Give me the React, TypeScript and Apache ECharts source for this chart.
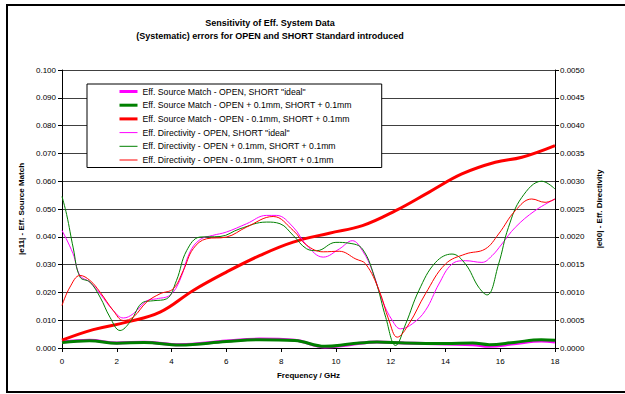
import React, { useEffect, useRef } from "react";
import * as echarts from "echarts";

const titleLines = [
  "Sensitivity of Eff. System Data",
  "(Systematic) errors for OPEN and SHORT Standard introduced",
];
const xAxisName = "Frequency / GHz";
const leftAxisName = "|e11| - Eff. Source Match";
const rightAxisName = "|e00| - Eff. Directivity";

const seriesNames = [
  'Eff. Source Match - OPEN, SHORT "ideal"',
  "Eff. Source Match - OPEN + 0.1mm, SHORT + 0.1mm",
  "Eff. Source Match - OPEN - 0.1mm, SHORT + 0.1mm",
  'Eff. Directivity - OPEN, SHORT "ideal"',
  "Eff. Directivity - OPEN + 0.1mm, SHORT + 0.1mm",
  "Eff. Directivity - OPEN - 0.1mm, SHORT + 0.1mm",
];

// Source match (left axis)
const smIdealFreq = [0, 1, 2, 3, 4.3, 6, 7.2, 8.5, 9.6, 10.5, 11.5, 12.5, 14, 15, 15.6, 16.5, 17.5, 18];
const smIdeal = [0.0022, 0.0028, 0.0018, 0.0021, 0.0012, 0.0025, 0.0032, 0.0028, 0.0004, 0.0012, 0.0022, 0.0018, 0.0014, 0.0012, 0.0006, 0.0015, 0.0025, 0.0022];
const smPlusFreq = [0, 1, 2, 3, 4.3, 6, 7.2, 8.5, 9.6, 10.5, 11.5, 12.5, 14, 15, 15.6, 16.5, 17.5, 18];
const smPlus = [0.002, 0.0026, 0.0017, 0.002, 0.0011, 0.0023, 0.003, 0.0027, 0.0006, 0.0014, 0.0022, 0.0018, 0.0016, 0.0018, 0.0012, 0.002, 0.003, 0.0028];
const smMinusFreq = [0, 1.14, 2.36, 3.58, 4.79, 6.0, 7.23, 8.44, 9.76, 10.97, 12.18, 13.39, 14.6, 15.82, 16.79, 18];
const smMinus = [0.0028, 0.0066, 0.0093, 0.0129, 0.0207, 0.0273, 0.0333, 0.0381, 0.0413, 0.044, 0.0494, 0.056, 0.0626, 0.0668, 0.0686, 0.0728];

// Directivity (right axis)
const dirIdealFreq = [0, 0.4, 0.66, 1.02, 1.39, 1.87, 2.24, 2.6, 3.1, 3.45, 3.94, 4.3, 4.67, 5.04, 5.5, 6.0, 6.74, 7.47, 7.83, 8.44, 8.93, 9.54, 10.12, 10.6, 10.97, 11.33, 11.7, 12.06, 12.36, 12.79, 13.27, 13.76, 14.24, 14.73, 15.33, 15.7, 16.06, 16.55, 17.27, 18];
const dirIdeal = [0.002115, 0.0017, 0.0013, 0.001185, 0.000975, 0.000675, 0.00054, 0.000615, 0.00085, 0.000885, 0.00095, 0.001215, 0.001725, 0.00195, 0.002025, 0.002085, 0.002235, 0.002385, 0.002385, 0.002175, 0.00185, 0.001635, 0.00178, 0.00193, 0.00175, 0.00139, 0.00085, 0.000495, 0.000345, 0.000435, 0.000675, 0.00115, 0.00151, 0.00157, 0.00154, 0.00166, 0.00187, 0.00217, 0.00247, 0.00268];
const dirPlusFreq = [0, 0.17, 0.41, 0.66, 1.02, 1.39, 1.75, 2.12, 2.48, 2.97, 3.33, 3.82, 4.18, 4.55, 5.04, 5.77, 6.5, 7.47, 7.96, 8.44, 8.93, 9.3, 10.0, 10.48, 10.97, 11.45, 11.82, 12.18, 12.55, 13.03, 13.64, 14.24, 14.73, 15.21, 15.52, 15.94, 16.3, 16.79, 17.52, 18];
const dirPlus = [0.002725, 0.0024, 0.0018, 0.001275, 0.001185, 0.000915, 0.000555, 0.000315, 0.000465, 0.000825, 0.00085, 0.000885, 0.001215, 0.00175, 0.001995, 0.002005, 0.002145, 0.002265, 0.002235, 0.002025, 0.001785, 0.00175, 0.0019, 0.001885, 0.00178, 0.00121, 0.00055, 0.000045, 0.000435, 0.001035, 0.00154, 0.00169, 0.00151, 0.001095, 0.000955, 0.00151, 0.00217, 0.00271, 0.003, 0.00286];
const dirMinusFreq = [0, 0.29, 0.66, 1.02, 1.39, 1.87, 2.24, 2.6, 3.09, 3.58, 4.06, 4.43, 4.79, 5.28, 6.0, 6.74, 7.71, 8.44, 8.93, 9.54, 10.12, 10.73, 11.09, 11.58, 11.94, 12.24, 12.67, 13.27, 14.0, 14.73, 15.45, 15.94, 16.55, 17.15, 17.64, 18];
const dirMinus = [0.000765, 0.001095, 0.001305, 0.001215, 0.001005, 0.000675, 0.000495, 0.000555, 0.000825, 0.000975, 0.001065, 0.001395, 0.001785, 0.001965, 0.001995, 0.002175, 0.002365, 0.002115, 0.00185, 0.00173, 0.00174, 0.0016, 0.00151, 0.001035, 0.000495, 0.000195, 0.000435, 0.000975, 0.00151, 0.00169, 0.00178, 0.00205, 0.00247, 0.00268, 0.00262, 0.00268];

const colors = ["#FF00FF", "#008000", "#FF0000", "#FF00FF", "#008000", "#FF0000"];
const widths = [3, 3, 3, 1, 1, 1];

const zip = (xs: number[], ys: number[]) => xs.map((x, i) => [x, ys[i]]);

const FONT = "'Liberation Sans', Arial, sans-serif";

export default function App() {
  const ref = useRef<HTMLDivElement>(null);
  useEffect(() => {
    if (!ref.current) return;
    const chart = echarts.init(ref.current, undefined, { renderer: "svg" });
    const datasets = [
      zip(smIdealFreq, smIdeal),
      zip(smPlusFreq, smPlus),
      zip(smMinusFreq, smMinus),
      zip(dirIdealFreq, dirIdeal),
      zip(dirPlusFreq, dirPlus),
      zip(dirMinusFreq, dirMinus),
    ];
    chart.setOption({
      animation: false,
      backgroundColor: "#fff",
      textStyle: { fontFamily: FONT },
      title: {
        text: titleLines.join("\n"),
        left: 265,
        top: 11,
        textAlign: "center",
        textStyle: { fontFamily: FONT, fontSize: 9, fontWeight: "bold", color: "#000", lineHeight: 13.5 },
      },
      graphic: [
        {
          type: "polyline",
          shape: { points: [[640, 5], [7, 5], [7, 392], [640, 392]] },
          style: { stroke: "#000", lineWidth: 2, fill: null },
          silent: true,
        },
      ],
      legend: {
        left: 87,
        top: 84,
        orient: "vertical",
        backgroundColor: "#fff",
        borderColor: "#000",
        borderWidth: 1,
        borderRadius: 0,
        padding: [3, 30, 3, 31],
        itemWidth: 18,
        itemHeight: 9,
        itemGap: 4.7,
        itemStyle: { color: "transparent", opacity: 0, borderWidth: 0 },
        textStyle: { fontFamily: FONT, fontSize: 8.7, color: "#000" },
        data: seriesNames.map((n, i) => ({
          name: n,
          lineStyle: { color: colors[i], width: widths[i], opacity: 1 },
        })),
      },
      grid: { left: 62, right: 70, top: 70, bottom: 46, containLabel: false },
      xAxis: {
        type: "value",
        min: 0,
        max: 18,
        interval: 2,
        name: xAxisName,
        nameLocation: "middle",
        nameGap: 23,
        nameTextStyle: { fontFamily: FONT, fontSize: 8, fontWeight: "bold", color: "#000" },
        axisLine: { lineStyle: { color: "#000", width: 1 } },
        axisTick: { show: true, inside: false, length: 4, lineStyle: { color: "#000" } },
        axisLabel: { fontFamily: FONT, fontSize: 8, color: "#000", margin: 9 },
        splitLine: { show: false },
      },
      yAxis: [
        {
          type: "value",
          min: 0,
          max: 0.1,
          interval: 0.01,
          name: leftAxisName,
          nameLocation: "middle",
          nameGap: 30,
          nameRotate: 90,
          nameTextStyle: { fontFamily: FONT, fontSize: 8, fontWeight: "bold", color: "#000" },
          axisLine: { show: true, lineStyle: { color: "#000", width: 1 } },
          axisTick: { show: true, length: 4, lineStyle: { color: "#000" } },
          axisLabel: { fontFamily: FONT, fontSize: 8, color: "#000", margin: 6, formatter: (v: number) => v.toFixed(3) },
          splitLine: { show: true, lineStyle: { color: "#404040", width: 1 } },
        },
        {
          type: "value",
          min: 0,
          max: 0.005,
          interval: 0.0005,
          position: "right",
          name: rightAxisName,
          nameLocation: "middle",
          nameGap: 40,
          nameRotate: 90,
          nameTextStyle: { fontFamily: FONT, fontSize: 8, fontWeight: "bold", color: "#000" },
          axisLine: { show: true, lineStyle: { color: "#000", width: 1 } },
          axisTick: { show: true, length: 4, lineStyle: { color: "#000" } },
          axisLabel: { fontFamily: FONT, fontSize: 8, color: "#000", margin: 5, formatter: (v: number) => v.toFixed(4) },
          splitLine: { show: false },
        },
      ],
      series: datasets.map((d, i) => ({
        name: seriesNames[i],
        type: "line",
        yAxisIndex: i < 3 ? 0 : 1,
        data: d,
        smooth: 0.4,
        symbol: "none",
        showSymbol: false,
        lineStyle: { color: colors[i], width: widths[i] },
        itemStyle: { color: colors[i] },
      })),
    });
    return () => chart.dispose();
  }, []);
  return (
    <div
      ref={ref}
      style={{ position: "fixed", left: 0, top: 0, width: 625, height: 394 }}
    />
  );
}
